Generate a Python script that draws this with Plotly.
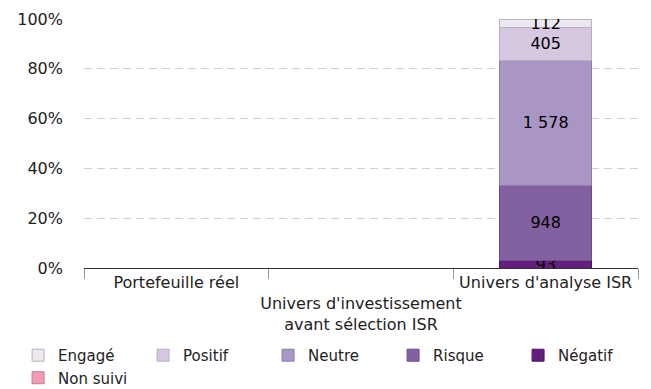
import plotly.graph_objects as go

categories = ["Portefeuille réel",
              "<br>Univers d'investissement<br>avant sélection ISR",
              "Univers d'analyse ISR"]
series_names = ["Négatif", "Risque", "Neutre", "Positif", "Engagé", "Non suivi"]
negatif = [0, 0, 93]
risque = [0, 0, 948]
neutre = [0, 0, 1578]
positif = [0, 0, 405]
engage = [0, 0, 112]
non_suivi = [0, 0, 0]
series_values = [negatif, risque, neutre, positif, engage, non_suivi]
colors = ["#651E7E", "#8360A0", "#AA96C5", "#D7C8E1", "#EDE7F1", "#F19BB4"]
borders = ["#4F1463", "#6C4B88", "#8F7AAA", "#B9AAC4", "#B8B4BC", "#C87D93"]
legend_rank = [5, 4, 3, 2, 1, 6]
y_ticks = [0, 20, 40, 60, 80, 100]
y_tick_labels = ["0%", "20%", "40%", "60%", "80%", "100%"]

FONT = "DejaVu Sans, Verdana, sans-serif"


def fmt(v):
    return f"{v:,}".replace(",", " ")


fig = go.Figure()
for name, vals, col, bcol, rank in zip(series_names, series_values, colors, borders, legend_rank):
    fig.add_trace(go.Bar(
        name=name,
        x=categories,
        y=[v if v else None for v in vals],
        text=[fmt(v) if v else "" for v in vals],
        textposition="inside",
        insidetextanchor="middle",
        constraintext="none",
        textangle=0,
        textfont=dict(family=FONT, size=16, color="#000000"),
        marker=dict(color=col, line=dict(color=bcol, width=1)),
        legendrank=rank,
        hoverinfo="name+y",
    ))

fig.update_layout(
    barmode="stack",
    barnorm="percent",
    bargap=0.5,
    width=651,
    height=389,
    margin=dict(l=84, r=13, t=19, b=121, autoexpand=False),
    paper_bgcolor="white",
    plot_bgcolor="white",
    font=dict(family=FONT, size=16, color="#222222"),
    showlegend=True,
    legend=dict(
        orientation="h",
        x=-0.119,
        xanchor="left",
        y=-0.285,
        yanchor="top",
        font=dict(family=FONT, size=15, color="#222222"),
        traceorder="normal",
        entrywidth=80,
        entrywidthmode="pixels",
        tracegroupgap=0,
    ),
    uniformtext=dict(mode=False),
)

fig.update_xaxes(
    type="category",
    tickson="boundaries",
    ticks="outside",
    ticklen=10,
    tickwidth=1,
    tickcolor="#999999",
    tickangle=0,
    automargin=False,
    showline=True,
    linecolor="#333333",
    linewidth=1,
    showgrid=False,
    tickfont=dict(family=FONT, size=16, color="#222222"),
)
fig.update_yaxes(
    range=[0, 100],
    tickvals=y_ticks,
    ticktext=y_tick_labels,
    automargin=False,
    showgrid=True,
    gridcolor="#D0D0D0",
    griddash="8px,5px",
    gridwidth=1,
    zeroline=False,
    showline=False,
    ticks="",
    ticklabelstandoff=20,
    tickfont=dict(family=FONT, size=16, color="#222222"),
)

fig.write_html("out.html")
